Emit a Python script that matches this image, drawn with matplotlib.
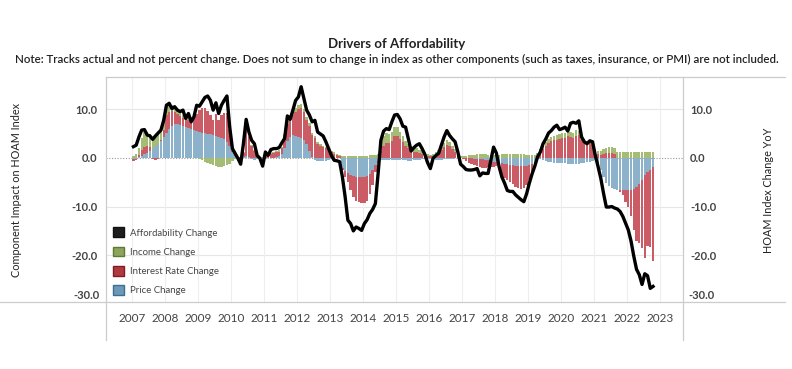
import numpy as np
import matplotlib.pyplot as plt
from matplotlib.patches import Patch
from matplotlib.lines import Line2D

plt.rcParams['font.family'] = ['Lato', 'DejaVu Sans']

# monthly values, Jan 2007 .. Oct 2022 (one line per year)
afford_change = [
    2.3, 2.6, 4.3, 5.7, 5.8, 4.7, 4.5, 3.8, 4.5, 5.1, 5.7, 7.7,
    10.8, 11.2, 10.1, 10.5, 9.8, 9.5, 9.8, 8.1, 9.1, 7.4, 8.4, 10.8,
    10.6, 11.5, 12.4, 12.7, 11.8, 9.8, 11.3, 9.1, 10.8, 11.8, 12.7, 6.4,
    1.9, 0.9, -0.1, -1.3, 2.9, 7.9, 5.3, 3.6, 2.9, 0.5, -0.1, -1.7,
    1.2, 0.5, 1.7, 1.9, 1.9, 2.1, 3.1, 4.0, 8.6, 7.9, 9.8, 11.8,
    12.5, 14.6, 12.2, 9.8, 8.8, 7.4, 7.7, 5.3, 4.9, 4.5, 3.3, 1.9,
    0.5, -0.5, -0.6, -0.8, -3.9, -8.0, -12.8, -13.5, -15.0, -14.2, -14.5, -14.9,
    -13.5, -12.7, -11.4, -10.6, -9.4, -3.2, 3.6, 5.5, 6.0, 5.8, 7.4, 8.8,
    8.9, 8.0, 6.5, 6.3, 3.9, 1.4, 2.1, 2.6, 2.9, 1.9, 0.7, -1.0,
    -2.2, -0.1, 0.5, 0.9, 2.6, 4.3, 5.6, 4.6, 3.9, 3.3, 1.2, -1.3,
    -1.8, -2.4, -2.5, -2.5, -2.4, -2.2, -3.7, -3.1, -3.2, -3.2, -0.5, 2.2,
    1.0, -1.8, -3.9, -5.2, -6.7, -6.9, -6.9, -7.6, -8.1, -8.6, -9.0, -7.4,
    -5.2, -3.3, -1.7, 0.2, 1.2, 2.9, 3.9, 5.1, 5.6, 6.3, 6.7, 5.8,
    6.0, 6.3, 5.5, 7.1, 7.3, 7.1, 7.6, 4.3, 3.3, 2.9, 3.5, 3.3,
    0.5, -1.8, -4.2, -7.3, -10.1, -10.1, -10.0, -10.3, -10.5, -11.0, -12.0, -13.4,
    -14.8, -17.1, -20.2, -22.9, -24.0, -26.0, -23.8, -24.2, -26.8, -26.4,
]

price_change = [
    -0.3, -0.2, 0.1, 0.4, 0.7, 1.0, 1.4, 1.9, 2.4, 2.9, 3.4, 4.2,
    5.2, 6.0, 6.6, 7.0, 7.0, 6.8, 6.6, 6.4, 6.2, 6.0, 5.8, 5.6,
    5.4, 5.2, 5.0, 4.9, 4.8, 4.6, 4.5, 4.3, 4.1, 3.8, 3.3, 2.4,
    1.2, 0.4, -0.1, 0.0, 0.2, 0.4, 0.2, -0.3, -0.4, -0.2, -0.3, -0.2,
    -0.2, -0.1, -0.1, 0.0, 0.1, 0.3, 0.8, 2.0, 3.5, 4.3, 4.6, 4.5,
    4.3, 4.0, 3.6, 2.8, 1.4, 0.2, -0.4, -0.6, -0.7, -0.7, -0.6, -0.4,
    -0.3, -0.2, -0.1, -0.1, -2.0, -2.8, -3.2, -3.5, -3.7, -3.9, -4.0, -4.0,
    -4.0, -3.8, -3.3, -2.5, -1.5, -0.6, -0.5, -0.5, -0.4, -0.4, -0.4, -0.4,
    -0.4, -0.4, -0.5, -0.5, -0.6, -0.6, -0.5, -0.5, -0.4, -0.3, -0.3, -0.2,
    -0.2, -0.3, -0.4, -0.4, -0.4, -0.3, -0.3, -0.3, -0.2, -0.1, 0.0, 0.0,
    0.0, 0.0, -0.1, -0.1, -0.2, -0.2, -0.3, -0.3, -0.4, -0.5, -0.6, -0.8,
    -0.9, -1.0, -1.1, -1.2, -1.3, -1.4, -1.5, -1.6, -1.6, -1.7, -1.7, -1.6,
    -1.5, -1.2, -0.8, -0.3, -0.2, -0.4, -0.6, -0.8, -0.9, -1.0, -1.0, -1.0,
    -1.0, -1.1, -1.2, -1.2, -1.3, -1.3, -1.2, -1.1, -1.0, -0.9, -0.8, -0.7,
    -0.5, -1.0, -2.5, -4.0, -5.2, -5.8, -6.2, -6.4, -6.5, -6.6, -6.6, -6.6,
    -6.6, -6.5, -6.3, -5.9, -5.3, -4.6, -3.6, -3.0, -2.4, -1.8,
]

rate_change = [
    -0.3, -0.2, 0.5, 1.2, 1.6, 1.4, 0.8, -0.3, -0.4, -0.2, 0.3, 1.5,
    3.5, 3.5, 3.0, 2.5, 2.0, 1.8, 1.6, 1.8, 1.6, 2.2, 2.6, 3.5,
    4.5, 5.0, 5.2, 4.8, 4.0, 3.2, 4.5, 3.5, 4.8, 5.5, 6.0, 3.5,
    0.5, 0.2, 0.0, 0.1, 0.8, 5.5, 4.0, 2.5, 1.5, 0.5, 0.0, -0.2,
    0.3, 0.5, 0.8, 1.0, 1.0, 1.0, 1.2, 2.5, 3.5, 3.8, 4.2, 5.0,
    5.8, 6.2, 5.8, 5.0, 5.2, 4.5, 4.0, 2.8, 2.4, 2.2, 2.0, 1.8,
    1.2, 0.8, 0.5, 0.3, -0.5, -1.2, -1.8, -3.0, -4.3, -4.9, -5.0, -5.2,
    -5.3, -5.0, -4.2, -3.0, -1.5, -0.4, 1.5, 2.5, 3.0, 3.0, 3.5, 4.5,
    4.5, 3.8, 3.3, 2.5, 2.0, 1.6, 1.3, 1.2, 1.0, 0.8, 0.6, 0.4,
    0.3, 0.4, 0.6, 1.0, 1.6, 2.2, 2.7, 2.4, 1.8, 1.2, 0.5, 0.0,
    -0.3, -0.6, -0.9, -1.1, -1.3, -1.4, -1.6, -1.7, -1.6, -1.4, -1.3, -1.1,
    -0.8, -1.5, -2.2, -2.9, -3.2, -3.5, -3.9, -4.3, -4.5, -4.6, -4.4, -3.9,
    -3.0, -1.8, -0.6, 0.3, 1.2, 1.9, 2.5, 3.0, 3.4, 3.6, 3.7, 3.8,
    4.0, 4.0, 4.4, 4.2, 4.0, 4.4, 4.6, 3.6, 3.2, 2.8, 3.0, 2.6,
    1.2, 0.8, 0.6, 0.8, 1.0, 1.0, 1.0, 0.8, -0.2, -0.5, -1.0, -2.5,
    -3.4, -5.5, -8.5, -11.2, -12.2, -13.9, -16.9, -15.2, -15.9, -19.4,
]

income_change = [
    0.3, 0.8, 1.5, 2.5, 3.0, 3.0, 2.6, 2.4, 2.2, 2.0, 1.9, 2.0,
    1.8, 1.5, 1.2, 1.0, 0.8, 0.6, 0.5, 0.4, 0.3, 0.2, 0.1, 0.0,
    -0.3, -0.5, -0.8, -1.0, -1.3, -1.5, -1.7, -1.8, -1.8, -1.7, -1.5, -1.2,
    -0.6, -0.3, -0.1, 0.1, 0.2, 0.3, 0.3, 0.2, 0.1, 0.0, 0.0, 0.1,
    0.1, 0.1, 0.2, 0.2, 0.3, 0.3, 0.3, 0.4, 0.5, 0.6, 0.7, 0.8,
    0.8, 0.8, 0.7, 0.6, 0.5, 0.5, 0.4, 0.4, 0.4, 0.3, 0.3, 0.3,
    0.3, 0.3, 0.3, 0.3, 0.3, 0.3, 0.3, 0.3, 0.3, 0.3, 0.4, 0.4,
    0.4, 0.4, 0.5, 0.5, 0.6, 0.8, 1.5, 2.0, 2.0, 1.8, 1.8, 1.8,
    1.8, 1.6, 1.2, 1.0, 0.9, 0.8, 0.8, 0.8, 0.7, 0.6, 0.5, 0.4,
    0.3, 0.4, 0.5, 0.6, 0.7, 0.9, 1.0, 0.9, 0.7, 0.6, 0.4, 0.3,
    0.3, 0.4, 0.5, 0.6, 0.6, 0.7, 0.7, 0.7, 0.7, 0.6, 0.6, 0.6,
    0.6, 0.6, 0.7, 0.7, 0.7, 0.8, 0.8, 0.8, 0.8, 0.7, 0.7, 0.6,
    0.5, 0.5, 0.5, 0.6, 0.7, 0.8, 0.8, 0.9, 0.9, 0.9, 1.0, 1.0,
    1.0, 1.0, 1.1, 1.2, 1.2, 1.3, 1.0, 0.8, 0.7, 0.6, 0.6, 0.6,
    0.6, 0.6, 0.8, 1.0, 1.1, 1.2, 1.2, 1.2, 1.2, 1.2, 1.2, 1.2,
    1.2, 1.2, 1.2, 1.2, 1.2, 1.2, 1.2, 1.2, 1.2, 1.2,
]

years = list(range(2007, 2024))
y_ticks = [10, 0, -10, -20]

blue = '#8BB1CB'
red = '#CB5C66'
green = '#A5BC74'

months = 2007 + (np.arange(len(afford_change)) + 0.5) / 12

fig = plt.figure(figsize=(7.92, 3.69), dpi=100)
ax = fig.add_axes([106/792, 1 - 302/369, 577/792, 225/369])

# stacked bars, positive and negative parts stacked separately
pos_base = np.zeros(len(months))
neg_base = np.zeros(len(months))
for vals, col in [(price_change, blue), (rate_change, red), (income_change, green)]:
    v = np.array(vals)
    p = np.where(v > 0, v, 0)
    n = np.where(v < 0, v, 0)
    ax.bar(months, p, width=0.85/12, bottom=pos_base, color=col, linewidth=0, zorder=2)
    ax.bar(months, n, width=0.85/12, bottom=neg_base, color=col, linewidth=0, zorder=2)
    pos_base += p
    neg_base += n

ax.plot(months, afford_change, color='black', lw=2.4, solid_joinstyle='round', zorder=4)

ax.set_xlim(2006.21, 2023.70)
ax.set_ylim(-29.6, 16.6)

# grid
for yv in [10, -10, -20]:
    ax.axhline(yv, color='#e6e6e6', lw=0.8, zorder=0)
ax.axhline(0, color='#9a9a9a', lw=0.8, ls=(0, (1, 1.5)), zorder=1)
for yr in years:
    ax.axvline(yr, color='#eeeeee', lw=0.8, zorder=0)

for s in ax.spines.values():
    s.set_visible(False)
ax.tick_params(length=0)
ax.set_xticks(years)
ax.set_xticklabels([str(y) for y in years], fontsize=8.5, color='#444444')
ax.tick_params(axis='x', pad=8)
ax.set_yticks(y_ticks)
ax.set_yticklabels(['%.1f' % t for t in y_ticks], fontsize=8, color='#444444', fontweight='bold')
ax.tick_params(axis='y', pad=6)

ax2 = ax.twinx()
ax2.set_ylim(ax.get_ylim())
ax2.set_yticks(y_ticks)
ax2.set_yticklabels(['%.1f' % t for t in y_ticks], fontsize=8, color='#444444', fontweight='bold')
ax2.tick_params(length=0, pad=5)
for s in ax2.spines.values():
    s.set_visible(False)

# -30 labels sit just inside the bottom edge
ax.text(-0.011, 0.027, '-30.0', transform=ax.transAxes, ha='right', va='center',
        fontsize=8, color='#444444', fontweight='bold')
ax.text(1.009, 0.027, '-30.0', transform=ax.transAxes, ha='left', va='center',
        fontsize=8, color='#444444', fontweight='bold')

# pane borders
bc = '#cccccc'
fig.add_artist(Line2D([106/792, 785/792], [1 - 77/369, 1 - 77/369], color=bc, lw=0.9))
fig.add_artist(Line2D([0, 785/792], [1 - 302/369, 1 - 302/369], color=bc, lw=0.9))
fig.add_artist(Line2D([106/792, 106/792], [1 - 77/369, 1 - 340/369], color=bc, lw=0.9))
fig.add_artist(Line2D([683/792, 683/792], [1 - 77/369, 1 - 340/369], color=bc, lw=0.9))

fig.text(397/792, 1 - 44/369, 'Drivers of Affordability', ha='center', va='center',
         fontsize=9.5, fontweight='bold', color='#222222')
fig.text(397/792, 1 - 59/369,
         'Note: Tracks actual and not percent change. Does not sum to change in index as other '
         'components (such as taxes, insurance, or PMI) are not included.',
         ha='center', va='center', fontsize=8.3, fontweight='semibold', color='#222222')

fig.text(17/792, 1 - 190/369, 'Component Impact on HOAM Index', rotation=90,
         ha='center', va='center', fontsize=7.8, color='#222222')
fig.text(769/792, 1 - 190/369, 'HOAM Index Change YoY', rotation=90,
         ha='center', va='center', fontsize=7.8, color='#222222')

handles = [
    Patch(facecolor='#1e1e1e', edgecolor='#111111', label='Affordability Change'),
    Patch(facecolor='#8DA35E', edgecolor='#5f7a35', label='Income Change'),
    Patch(facecolor='#B2383F', edgecolor='#7a1e24', label='Interest Rate Change'),
    Patch(facecolor='#6C99B8', edgecolor='#3f6e90', label='Price Change'),
]
leg = ax.legend(handles=handles, loc='lower left', bbox_to_anchor=(0.0, 0.0),
                frameon=False, fontsize=6.9, handlelength=1.2, handleheight=1.2,
                handletextpad=0.6, labelspacing=0.95, borderaxespad=0.3)
for t in leg.get_texts():
    t.set_color('#444444')

fig.savefig('out.png', dpi=100, facecolor='white')
